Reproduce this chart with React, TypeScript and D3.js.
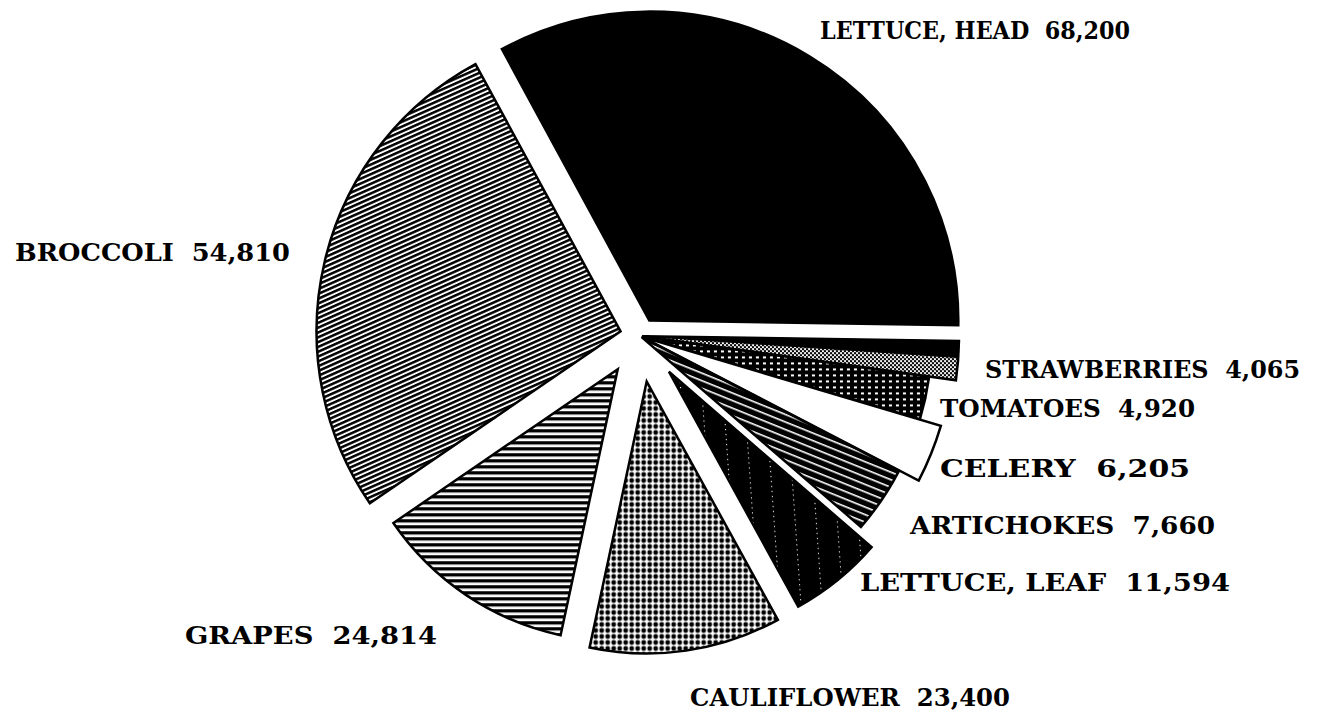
import React from "react";
import * as d3 from "d3";

const names = ["LETTUCE, HEAD", "STRAWBERRIES", "TOMATOES", "CELERY", "ARTICHOKES", "LETTUCE, LEAF", "CAULIFLOWER", "GRAPES", "BROCCOLI"];
const values = [68200, 4065, 4920, 6205, 7660, 11594, 23400, 24814, 54810];

// styling / layout per slice (same order as names)
const explode = [18, 2, 2, 2, 2, 46, 46, 40, 20];
const radii = [309, 317, 290, 312, 290, 268, 272, 272, 304];
const fills = ["#000", "url(#p-straw)", "url(#p-tom)", "#fff", "url(#p-art)", "url(#p-leaf)", "url(#p-caul)", "url(#p-grape)", "url(#p-broc)"];
const labelX = [820, 985, 940, 940, 910, 860, 690, 185, 15];
const labelY = [39, 378, 417, 477, 534, 591, 706, 644, 261];
const labelW = [310, 315, 255, 250, 305, 370, 320, 252, 275];

const W = 1336, H = 717;
const cx = 640, cy = 336;
const startDeg = -28.5;

export default function App() {
  const rad = (d: number) => (d * Math.PI) / 180;
  const pie = d3.pie<number>().sort(null).value((d) => d)
    .startAngle(rad(startDeg)).endAngle(rad(startDeg + 360));
  const arcs = pie(values);
  const fmt = d3.format(",");

  return (
    <div style={{ position: "fixed", left: 0, top: 0 }}>
      <svg width={W} height={H} style={{ display: "block", background: "#fff" }}>
        <defs>
          <pattern id="p-straw" width="4" height="4" patternUnits="userSpaceOnUse">
            <rect width="4" height="4" fill="#fff" />
            <circle cx="1" cy="1" r="1.2" fill="#000" />
            <circle cx="3" cy="3" r="1.2" fill="#000" />
          </pattern>
          <pattern id="p-tom" width="7" height="6" patternUnits="userSpaceOnUse">
            <rect width="7" height="6" fill="#000" />
            <rect x="2" y="2" width="3" height="2" fill="#fff" />
          </pattern>
          <pattern id="p-art" width="7" height="7" patternUnits="userSpaceOnUse" patternTransform="rotate(22)">
            <rect width="7" height="7" fill="#000" />
            <rect y="3" width="7" height="1.6" fill="#fff" />
          </pattern>
          <pattern id="p-leaf" width="21" height="5" patternUnits="userSpaceOnUse" patternTransform="rotate(-4)">
            <rect width="21" height="5" fill="#000" />
            <rect x="10" y="1" width="1" height="1.2" fill="#fff" />
          </pattern>
          <pattern id="p-caul" width="6" height="6" patternUnits="userSpaceOnUse">
            <rect width="6" height="6" fill="#fff" />
            <circle cx="3" cy="3" r="2.4" fill="#000" />
          </pattern>
          <pattern id="p-grape" width="6" height="6" patternUnits="userSpaceOnUse">
            <rect width="6" height="6" fill="#fff" />
            <rect y="0" width="6" height="3.3" fill="#000" />
          </pattern>
          <pattern id="p-broc" width="4.4" height="4.4" patternUnits="userSpaceOnUse" patternTransform="rotate(-24)">
            <rect width="4.4" height="4.4" fill="#fff" />
            <rect y="0" width="4.4" height="2.5" fill="#000" />
          </pattern>
        </defs>
        {arcs.map((a, i) => {
          const mid = (a.startAngle + a.endAngle) / 2;
          const dx = explode[i] * Math.sin(mid);
          const dy = -explode[i] * Math.cos(mid);
          const arcGen = d3.arc<any>().innerRadius(0).outerRadius(radii[i]);
          const band = i === 1
            ? arcGen({ startAngle: a.startAngle, endAngle: a.startAngle + (a.endAngle - a.startAngle) * 0.42 })
            : null;
          return (
            <g key={names[i]} transform={`translate(${cx + dx},${cy + dy})`}>
              <path d={arcGen(a as any) || ""} fill={fills[i]} stroke="#000" strokeWidth={2.5} strokeLinejoin="miter" />
              {band && <path d={band} fill="#000" stroke="#000" strokeWidth={1} />}
            </g>
          );
        })}
        <g fontFamily="'DejaVu Serif Condensed', 'DejaVu Serif', serif" fontStretch="condensed" fontWeight="bold" fontSize="25" fill="#000">
          {names.map((n, i) => (
            <text key={n} x={labelX[i]} y={labelY[i]} textLength={labelW[i]} lengthAdjust="spacingAndGlyphs" xmlSpace="preserve">
              {`${n}  ${fmt(values[i])}`}
            </text>
          ))}
        </g>
      </svg>
    </div>
  );
}
